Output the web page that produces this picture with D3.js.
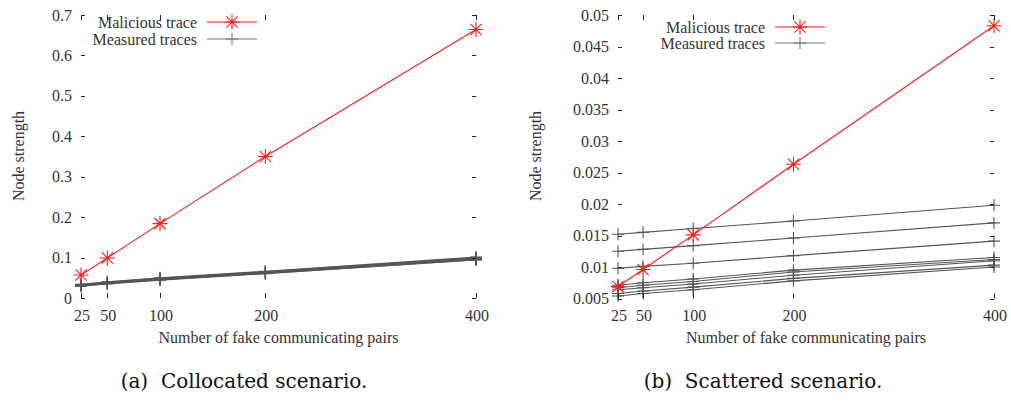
<!DOCTYPE html>
<html>
<head>
<meta charset="utf-8">
<script src="https://cdn.jsdelivr.net/npm/d3@7/dist/d3.min.js"></script>
<style>
  html, body { margin: 0; padding: 0; background: #fff; }
  svg { display: block; }
  text.caption { white-space: pre; }
</style>
</head>
<body>
<svg id="chart" width="1011" height="405"></svg>
<script>
// ---------- data ----------
const xValues = [25, 50, 100, 200, 400];
const xTickLabels = ["25", "50", "100", "200", "400"];

// (a) Collocated scenario
const leftMalicious = [0.057, 0.099, 0.184, 0.350, 0.664];
const leftMeasured = [
  [0.034, 0.040, 0.050, 0.066, 0.101],
  [0.033, 0.039, 0.049, 0.065, 0.100],
  [0.032, 0.038, 0.048, 0.064, 0.099],
  [0.031, 0.037, 0.047, 0.063, 0.097],
  [0.031, 0.036, 0.046, 0.062, 0.096],
  [0.030, 0.036, 0.045, 0.061, 0.095],
  [0.029, 0.035, 0.044, 0.060, 0.094]
];
const leftYTicks = [0, 0.1, 0.2, 0.3, 0.4, 0.5, 0.6, 0.7];
const leftYTickLabels = ["0", "0.1", "0.2", "0.3", "0.4", "0.5", "0.6", "0.7"];

// (b) Scattered scenario
const rightMalicious = [0.0069, 0.0096, 0.0151, 0.0263, 0.0483];
const rightMeasured = [
  [0.0152, 0.0155, 0.0161, 0.0173, 0.0198],
  [0.0125, 0.0128, 0.0134, 0.0146, 0.0170],
  [0.0098, 0.0101, 0.0106, 0.0118, 0.0141],
  [0.0071, 0.0075, 0.0081, 0.0095, 0.0115],
  [0.0067, 0.0071, 0.0077, 0.0092, 0.0112],
  [0.0064, 0.0067, 0.0073, 0.0087, 0.0110],
  [0.0058, 0.0062, 0.0068, 0.0082, 0.0103],
  [0.0054, 0.0058, 0.0064, 0.0078, 0.0100]
];
const rightYTicks = [0.005, 0.01, 0.015, 0.02, 0.025, 0.03, 0.035, 0.04, 0.045, 0.05];
const rightYTickLabels = ["0.005", "0.01", "0.015", "0.02", "0.025", "0.03", "0.035", "0.04", "0.045", "0.05"];

const legendLabels = ["Malicious trace", "Measured traces"];
const xTitle = "Number of fake communicating pairs";
const yTitle = "Node strength";
const captions = ["(a)  Collocated scenario.", "(b)  Scattered scenario."];

// ---------- drawing ----------
const svg = d3.select("#chart");
const FONT = "'Liberation Serif', 'Times New Roman', serif";
const TEXT_COLOR = "#333";
const RED = "#ff1a1a";
const GRAY = "#555";

function drawPanel(cfg) {
  const x = d3.scaleLinear().domain([25, 400]).range([cfg.x0, cfg.x1]);
  const y = d3.scaleLinear().domain(cfg.yDomain).range([cfg.y0, cfg.y1]);
  const g = svg.append("g");

  // Measured traces
  const line = d3.line().x((d, i) => x(xValues[i])).y(d => y(d));
  cfg.measured.forEach(series => {
    g.append("path").datum(series)
      .attr("d", line).attr("fill", "none")
      .attr("stroke", GRAY).attr("stroke-width", 1.1);
  });
  cfg.measured.forEach(series => {
    series.forEach((v, i) => {
      const cx = x(xValues[i]), cy = y(v);
      g.append("path")
        .attr("d", `M${cx-6},${cy}H${cx+6}M${cx},${cy-6}V${cy+6}`)
        .attr("stroke", GRAY).attr("stroke-width", 1.1);
    });
  });

  // Malicious trace
  g.append("path").datum(cfg.malicious)
    .attr("d", line).attr("fill", "none")
    .attr("stroke", RED).attr("stroke-width", 1.1);
  const star = (cx, cy, r) => {
    const d = r * 0.75;
    return `M${cx-r},${cy}H${cx+r}M${cx},${cy-r}V${cy+r}` +
           `M${cx-d},${cy-d}L${cx+d},${cy+d}M${cx-d},${cy+d}L${cx+d},${cy-d}`;
  };
  cfg.malicious.forEach((v, i) => {
    g.append("path").attr("d", star(x(xValues[i]), y(v), 7.5))
      .attr("stroke", RED).attr("stroke-width", 1.1).attr("fill", "none");
  });

  // Legend
  const lg = g.append("g").attr("font-family", FONT).attr("font-size", 16).attr("fill", TEXT_COLOR);
  cfg.legendY.forEach((ly, i) => {
    lg.append("text").attr("x", cfg.legendTextX).attr("y", ly)
      .attr("text-anchor", "end").attr("dominant-baseline", "central")
      .text(legendLabels[i]);
    const lx0 = cfg.legendTextX + 10, lx1 = cfg.legendTextX + 60, mx = (lx0 + lx1) / 2;
    const col = i === 0 ? RED : "#777";
    g.append("line").attr("x1", lx0).attr("x2", lx1).attr("y1", ly).attr("y2", ly)
      .attr("stroke", col).attr("stroke-width", 1.1);
    g.append("path")
      .attr("d", i === 0 ? star(mx, ly, 7.5) : `M${mx-6},${ly}H${mx+6}M${mx},${ly-6}V${ly+6}`)
      .attr("stroke", col).attr("stroke-width", 1.1).attr("fill", "none");
  });

  // Ticks (inward, mirrored, no border)
  const tk = g.append("g").attr("stroke", "#222").attr("stroke-width", 1);
  cfg.yTicks.forEach(t => {
    const yy = Math.round(y(t)) + 0.5;
    tk.append("line").attr("x1", cfg.x0).attr("x2", cfg.x0 + 4).attr("y1", yy).attr("y2", yy);
    tk.append("line").attr("x1", cfg.x1 - 4).attr("x2", cfg.x1).attr("y1", yy).attr("y2", yy);
  });
  xValues.forEach(t => {
    const xx = Math.round(x(t)) + 0.5;
    tk.append("line").attr("x1", xx).attr("x2", xx).attr("y1", cfg.y0).attr("y2", cfg.y0 - 5);
    tk.append("line").attr("x1", xx).attr("x2", xx).attr("y1", cfg.y1).attr("y2", cfg.y1 + 5);
  });

  // Tick labels
  const tl = g.append("g").attr("font-family", FONT).attr("font-size", 16).attr("fill", TEXT_COLOR);
  cfg.yTicks.forEach((t, i) => {
    tl.append("text").attr("x", cfg.x0 - 9).attr("y", y(t))
      .attr("text-anchor", "end").attr("dominant-baseline", "central")
      .text(cfg.yTickLabels[i]);
  });
  xValues.forEach((t, i) => {
    tl.append("text").attr("x", x(t) + 1).attr("y", cfg.y0 + 17)
      .attr("text-anchor", "middle").attr("dominant-baseline", "central")
      .text(xTickLabels[i]);
  });

  // Axis titles
  tl.append("text").attr("x", (cfg.x0 + cfg.x1) / 2).attr("y", cfg.y0 + 39)
    .attr("text-anchor", "middle").attr("dominant-baseline", "central").text(xTitle);
  tl.append("text")
    .attr("transform", `translate(${cfg.yTitleX},${156}) rotate(-90)`)
    .attr("text-anchor", "middle").attr("dominant-baseline", "central").text(yTitle);

  // Caption
  svg.append("text").attr("class", "caption")
    .attr("x", cfg.captionX).attr("y", 388)
    .attr("text-anchor", "middle")
    .attr("font-family", "'DejaVu Serif', serif").attr("font-size", 20)
    .attr("fill", "#111").text(cfg.caption);
}

drawPanel({
  x0: 81, x1: 476, y0: 298, y1: 15, yDomain: [0, 0.7],
  measured: leftMeasured, malicious: leftMalicious,
  yTicks: leftYTicks, yTickLabels: leftYTickLabels,
  legendTextX: 197, legendY: [22, 39], yTitleX: 18,
  captionX: 244, caption: captions[0]
});
drawPanel({
  x0: 618, x1: 994, y0: 298.5, y1: 15, yDomain: [0.005, 0.05],
  measured: rightMeasured, malicious: rightMalicious,
  yTicks: rightYTicks, yTickLabels: rightYTickLabels,
  legendTextX: 765, legendY: [27, 43], yTitleX: 535,
  captionX: 763, caption: captions[1]
});
</script>
</body>
</html>
